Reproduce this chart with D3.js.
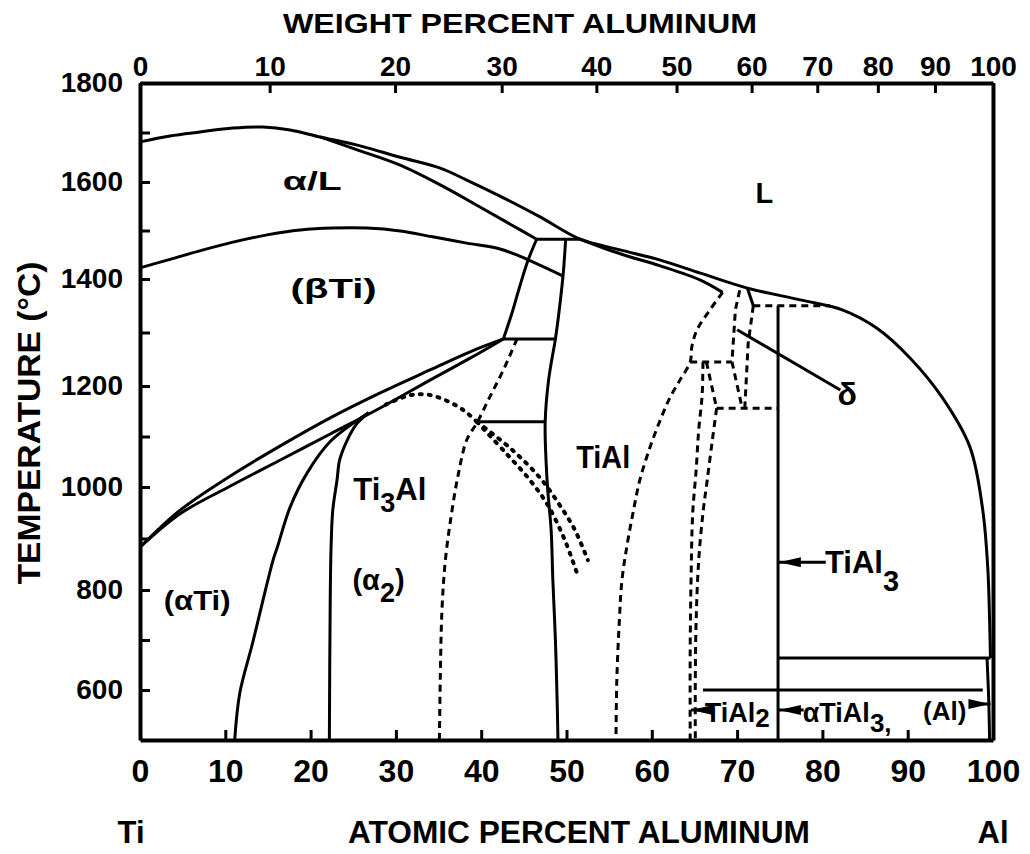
<!DOCTYPE html>
<html>
<head>
<meta charset="utf-8">
<script src="https://cdn.jsdelivr.net/npm/d3@7"></script>
<style>
	body { margin: 0; background: #fff; }
</style>
</head>
<body>
<svg id="chart" width="1030" height="854"></svg>
<script>
// ticks
var atomicTicks = [0, 10, 20, 30, 40, 50, 60, 70, 80, 90, 100];
var weightTicks = [0, 10, 20, 30, 40, 50, 60, 70, 80, 90, 100];
var weightTickAtomic = [0, 15.2, 29.9, 42.4, 53.5, 62.9, 71.7, 79.4, 86.5, 93.2, 100]; // where each wt% tick falls on the at% scale
var tempLabels = [600, 800, 1000, 1200, 1400, 1600, 1800];
var tempTicks = [600, 700, 800, 900, 1000, 1100, 1200, 1300, 1400, 1500, 1600, 1700, 1800];

// phase boundaries, [at% Al, temperature C]
var liquidus = [[0,1681],[3.5,1693],[7.0,1701],[10.9,1709],[14.4,1711],[17.6,1705],[21.1,1691],[25.8,1673],[30.5,1650],[35.2,1628],[38.3,1604],[42.2,1571],[46.9,1528],[51.6,1482],[56.3,1460],[61.0,1439],[65.7,1412],[71.2,1383],[77.4,1361],[82.4,1342],[86.4,1308],[90.3,1252],[94.1,1176],[97.3,1079],[98.8,955],[99.4,839],[99.6,740],[99.7,664]];
var alphaSolidus = [[21.1,1691],[25.8,1663],[30.5,1634],[35.2,1594],[39.9,1548],[43.4,1513],[46.5,1482]];
var peritectic = [[46.5,1482],[51.6,1482]];
var alphaBetaEdge = [[46.5,1482],[45.5,1439],[44.5,1385],[43.6,1336],[42.6,1288]];
var betaDome = [[0,1423],[3.2,1439],[7.0,1458],[10.9,1476],[14.9,1491],[18.8,1501],[22.6,1505],[26.6,1505],[30.5,1499],[34.3,1487],[38.3,1474],[42.2,1462],[44.5,1447],[49.6,1406]];
var tiAlLeft = [[49.9,1482],[49.6,1408],[49.0,1323],[48.7,1288],[47.9,1211],[47.5,1129],[47.6,1053],[47.8,994],[48.2,916],[48.4,819],[48.7,700],[48.9,580],[49.0,500]];
var line1288 = [[42.6,1288],[48.7,1288]];
var line1129 = [[39.5,1129],[47.5,1129]];
var betaTransusUpper = [[0,883],[4.7,955],[10.6,1022],[16.4,1081],[22.3,1137],[28.1,1186],[34.0,1230],[38.7,1264],[42.6,1288]];
var betaTransusLower = [[0,883],[4.7,948],[10.6,1002],[16.4,1053],[22.3,1105],[28.1,1156],[34.0,1211],[38.7,1252],[42.6,1288]];
var alpha2Left = [[11.1,500],[11.7,594],[13.2,694],[15.6,858],[16.1,883],[17.6,961],[19.6,1028],[22.3,1090],[26.8,1147]];
var alpha2Right = [[26.8,1147],[25.4,1125],[24.3,1093],[23.4,1053],[23.1,1014],[22.6,955],[22.4,883],[22.3,780],[22.2,500]];
var alpha2Top = [[28.8,1163],[31.7,1182],[34.0,1182],[36.3,1168],[38.1,1150],[39.5,1129]];
var orderA = [[39.5,1129],[42.8,1069],[45.7,1014],[47.8,965],[49.8,897],[51.3,829]];
var orderB = [[39.5,1129],[43.4,1077],[46.9,1018],[49.2,965],[51.0,916],[52.5,858]];
var tiAlDashLeft = [[44.2,1288],[42.6,1230],[41.0,1178],[39.5,1127],[38.3,1093],[37.3,1024],[36.5,946],[35.8,858],[35.4,760],[35.2,620],[35.1,500]];
var tiAlSolidus = [[51.6,1482],[56.3,1452],[61.0,1427],[65.7,1398],[68.3,1375]];
var tiAlDashRight = [[68.3,1375],[66.8,1342],[65.3,1305],[64.7,1274],[64.5,1245],[63.3,1211],[62.1,1176],[61.0,1133],[59.8,1079],[58.6,1014],[57.8,950],[57.1,887],[56.5,819],[56.2,740],[55.9,620],[55.8,500]];
var line1245 = [[64.5,1245],[69.4,1245]];
var tiAl2Left = [[66.0,1245],[65.9,1182],[65.5,1113],[65.2,1034],[64.8,950],[64.6,819],[64.5,680],[64.5,500]];
var tiAl2Diag = [[66.4,1245],[67.6,1156]];
var tiAl2Right = [[67.6,1156],[67.1,1093],[66.5,1014],[66.0,950],[65.5,858],[65.2,740],[65.1,620],[65.1,500]];
var line1156 = [[67.6,1156],[74.8,1156]];
var tiAl3 = [[74.8,1350],[74.8,500]];
var line1350 = [[71.9,1350],[80.9,1350]];
var deltaCap = [[71.2,1383],[71.9,1350]];
var deltaRight = [[71.9,1350],[71.3,1280],[70.9,1156]];
var deltaLeft = [[70.3,1379],[69.8,1342],[69.4,1245],[70.6,1156]];
var deltaLeader = [[70.0,1305],[82.1,1192]];
var line664 = [[74.8,664],[99.7,664]];
var line600 = [[66.0,600],[98.8,600]];
var alSolvus = [[99.3,664],[99.5,580],[99.6,500]];

var FONT = "'Liberation Sans', Arial, Helvetica, sans-serif";
var svg = d3.select("#chart");

var x = d3.scaleLinear().domain([0, 100]).range([140, 993]);
// the printed temperature axis is not evenly spaced, so pin it at the labelled ticks
var y = d3.scaleLinear()
	.domain([500, 600, 800, 1000, 1200, 1400, 1600, 1800])
	.range([740, 690, 590, 487, 386, 279, 182, 83]);

var styleAxis = function(g, size) {
	g.attr("font-family", FONT).attr("font-size", size).attr("font-weight", "bold");
	g.select(".domain").attr("stroke-width", 4);
	g.selectAll(".tick line").attr("stroke-width", 3);
};

var gBottom = svg.append("g")
	.attr("transform", "translate(0," + y(500) + ")")
	.call(d3.axisBottom(x).tickValues(atomicTicks).tickSizeInner(-10).tickSizeOuter(0).tickPadding(19)
		.tickFormat(function(d) { return d; }));
styleAxis(gBottom, 32);

var gLeft = svg.append("g")
	.attr("transform", "translate(" + x(0) + ",0)")
	.call(d3.axisLeft(y).tickValues(tempTicks).tickSizeInner(-10).tickSizeOuter(0).tickPadding(17)
		.tickFormat(function(d) { return tempLabels.indexOf(d) >= 0 ? d : ""; }));
styleAxis(gLeft, 28);

var gTop = svg.append("g")
	.attr("transform", "translate(0," + y(1800) + ")")
	.call(d3.axisTop(x).tickValues(weightTickAtomic).tickSizeInner(-10).tickSizeOuter(0).tickPadding(7)
		.tickFormat(function(d, i) { return weightTicks[i]; }));
styleAxis(gTop, 28);

var gRight = svg.append("g")
	.attr("transform", "translate(" + x(100) + ",0)")
	.call(d3.axisRight(y).tickValues([]).tickSizeOuter(0));
styleAxis(gRight, 10);

// boundaries
var boundaries = [
	{ pts: liquidus, style: "solid", smooth: true },
	{ pts: alphaSolidus, style: "solid", smooth: true },
	{ pts: peritectic, style: "solid" },
	{ pts: alphaBetaEdge, style: "solid", smooth: true },
	{ pts: betaDome, style: "solid", smooth: true },
	{ pts: tiAlLeft, style: "solid", smooth: true },
	{ pts: line1288, style: "solid" },
	{ pts: line1129, style: "solid" },
	{ pts: betaTransusUpper, style: "solid", smooth: true },
	{ pts: betaTransusLower, style: "solid", smooth: true },
	{ pts: alpha2Left, style: "solid", smooth: true },
	{ pts: alpha2Right, style: "solid", smooth: true },
	{ pts: alpha2Top, style: "dotted", smooth: true },
	{ pts: orderA, style: "dotted", smooth: true },
	{ pts: orderB, style: "dotted", smooth: true },
	{ pts: tiAlDashLeft, style: "dashed", smooth: true },
	{ pts: tiAlSolidus, style: "solid", smooth: true },
	{ pts: tiAlDashRight, style: "dashed", smooth: true },
	{ pts: line1245, style: "dashed" },
	{ pts: tiAl2Left, style: "dashed", smooth: true },
	{ pts: tiAl2Diag, style: "dashed" },
	{ pts: tiAl2Right, style: "dashed", smooth: true },
	{ pts: line1156, style: "dashed" },
	{ pts: tiAl3, style: "solid" },
	{ pts: line1350, style: "dashed" },
	{ pts: deltaCap, style: "solid" },
	{ pts: deltaRight, style: "dashed" },
	{ pts: deltaLeft, style: "dashed" },
	{ pts: deltaLeader, style: "solid" },
	{ pts: line664, style: "solid" },
	{ pts: line600, style: "solid" },
	{ pts: alSolvus, style: "solid", smooth: true }
];

var smoothLine = d3.line()
	.x(function(d) { return x(d[0]); })
	.y(function(d) { return y(d[1]); })
	.curve(d3.curveCatmullRom.alpha(0.5));
var straightLine = d3.line()
	.x(function(d) { return x(d[0]); })
	.y(function(d) { return y(d[1]); });

svg.append("g").selectAll("path")
	.data(boundaries)
	.join("path")
	.attr("d", function(d) { return (d.smooth ? smoothLine : straightLine)(d.pts); })
	.attr("fill", "none")
	.attr("stroke", "#000")
	.attr("stroke-width", function(d) { return d.style == "dotted" ? 4 : 3; })
	.attr("stroke-dasharray", function(d) {
		if (d.style == "dashed") return "7,5";
		if (d.style == "dotted") return "2,7";
		return null;
	})
	.attr("stroke-linecap", function(d) { return d.style == "dotted" ? "round" : "butt"; })
	.attr("stroke-linejoin", "round");

// arrows
svg.append("defs").append("marker")
	.attr("id", "head")
	.attr("markerUnits", "userSpaceOnUse")
	.attr("markerWidth", 22).attr("markerHeight", 10)
	.attr("refX", 22).attr("refY", 5)
	.attr("orient", "auto")
	.append("path").attr("d", "M0,0L22,5L0,10Z").attr("fill", "#000");

var arrow = function(a, b) {
	svg.append("line")
		.attr("x1", x(a[0])).attr("y1", y(a[1]))
		.attr("x2", x(b[0])).attr("y2", y(b[1]))
		.attr("stroke", "#000").attr("stroke-width", 3)
		.attr("marker-end", "url(#head)");
};
arrow([80.4, 854], [74.9, 854]);
arrow([66.3, 560], [64.6, 560]);
arrow([77.8, 560], [74.9, 560]);
arrow([97.3, 572], [99.7, 572]);

// text
var label = function(txt, px, py, size, anchor, width) {
	var t = svg.append("text")
		.attr("x", px).attr("y", py)
		.attr("font-family", FONT).attr("font-size", size).attr("font-weight", "bold")
		.attr("text-anchor", anchor || "middle")
		.text(txt);
	if (width) t.attr("textLength", width).attr("lengthAdjust", "spacingAndGlyphs");
	return t;
};
var subLabel = function(parts, px, py, size, subSize, drop) {
	var t = svg.append("text")
		.attr("x", px).attr("y", py)
		.attr("font-family", FONT).attr("font-size", size).attr("font-weight", "bold");
	parts.forEach(function(p, i) {
		var s = t.append("tspan").text(p);
		if (i % 2 == 1) s.attr("font-size", subSize).attr("dy", drop);
		else if (i > 0) s.attr("dy", -drop);
	});
	return t;
};

label("WEIGHT PERCENT ALUMINUM", 520, 33, 28, "middle", 474);
label("ATOMIC PERCENT ALUMINUM", 579, 843, 31, "middle", 462);
label("Ti", 131, 843, 31);
label("Al", 993, 843, 31);
label("TEMPERATURE (\u00b0C)", 0, 0, 32, "middle", 323)
	.attr("transform", "translate(40,423) rotate(-90)");

label("\u03b1/L", x(20.2), y(1584), 26, "middle", 59);
label("(\u03b2Ti)", x(22.7), y(1364), 28, "middle", 86);
label("L", x(73.2), y(1557), 29);
label("TiAl", x(54.3), y(1038), 31, "middle", 54);
label("(\u03b1Ti)", x(6.7), y(760), 27, "middle", 67);
label("\u03b4", x(82.9), y(1162), 32);
subLabel(["Ti", "3", "Al"], x(25.0), y(975), 31, 27, 12);
subLabel(["(\u03b1", "2", ")"], x(24.9), y(800), 29, 27, 12);
subLabel(["TiAl", "3"], x(80.3), y(833), 31, 29, 18);
subLabel(["TiAl", "2"], x(66.2), y(536), 27, 26, 5);
subLabel(["\u03b1TiAl", "3,"], x(77.7), y(536), 27, 26, 10);
label("(Al)", x(91.8), y(540), 26, "start");
</script>
</body>
</html>
